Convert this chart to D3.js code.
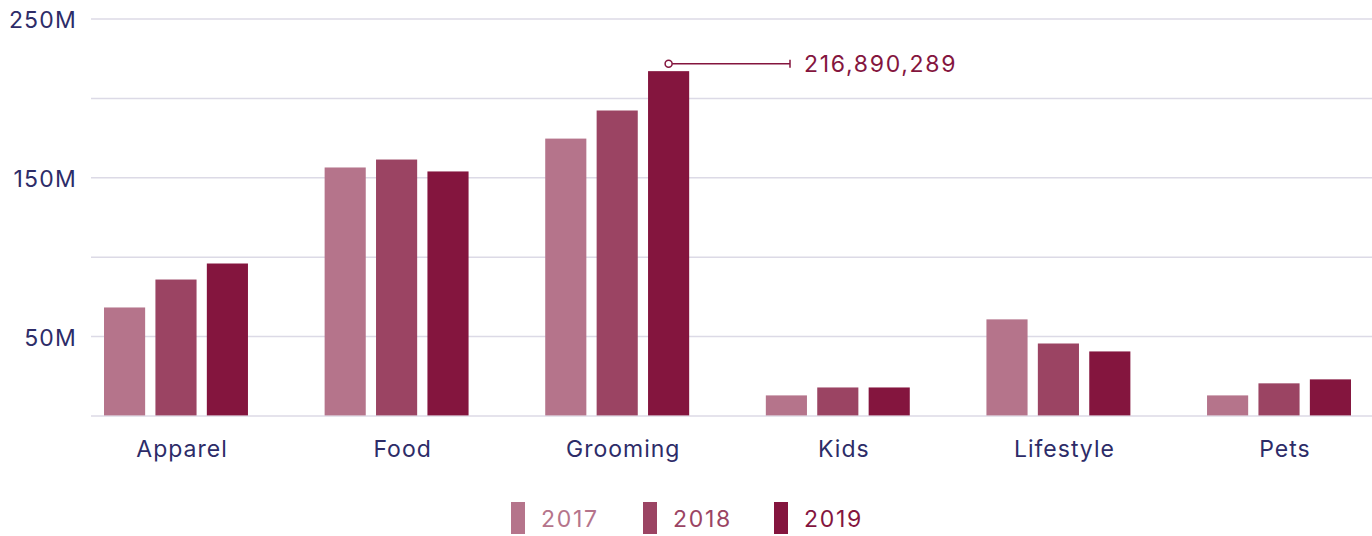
<!DOCTYPE html>
<html>
<head>
<meta charset="utf-8">
<script src="https://cdn.jsdelivr.net/npm/d3@7"></script>
<style>
  body { margin: 0; background: #fff; }
  text { font-family: Inter, "Noto Sans", sans-serif; }
  .grid line { stroke: #dcdae6; stroke-width: 1.5; }
  .grid path { display: none; }
  .tick text { fill: #2d2c68; font-size: 23px; }
  .grid .tick text { letter-spacing: 1.2px; }
  .xaxis .tick text { letter-spacing: 1px; }
  .num { letter-spacing: 1.7px; }
</style>
</head>
<body>
<div id="chart"></div>
<script>
var categories = ["Apparel", "Food", "Grooming", "Kids", "Lifestyle", "Pets"];
var years = ["2017", "2018", "2019"];
var sales2017 = [68.0e6, 156.2e6, 174.4e6, 12.6e6, 60.5e6, 12.6e6];
var sales2018 = [85.6e6, 161.2e6, 192.1e6, 17.6e6, 45.3e6, 20.2e6];
var sales2019 = [95.7e6, 153.7e6, 216890289, 17.6e6, 40.3e6, 22.7e6];
var yTicks = [0, 50e6, 100e6, 150e6, 200e6, 250e6];
var colors = ["#b5748b", "#9b4463", "#84153e"];

var series = [sales2017, sales2018, sales2019];

var margin = { top: 18.6, right: 0, bottom: 120, left: 91 },
  width = 1372 - margin.left - margin.right,
  height = 536 - margin.top - margin.bottom;

var svg = d3.select("#chart").append("svg")
  .attr("width", 1372)
  .attr("height", 536);

var g = svg.append("g")
  .attr("transform", "translate(" + margin.left + "," + margin.top + ")");

var x = d3.scaleBand()
  .domain(categories)
  .range([0, 1273])
  .paddingInner(0.3475)
  .paddingOuter(0.059);

var x1 = d3.scaleBand()
  .domain(years)
  .range([0, x.bandwidth()])
  .paddingInner(0.2);

var y = d3.scaleLinear()
  .domain([0, 250e6])
  .range([height - 0.6, 0]);

// gridlines + labels
var yAxis = d3.axisLeft(y)
  .tickValues(yTicks)
  .tickSize(-width)
  .tickPadding(14)
  .tickFormat(function(d) {
    return (d / 1e6) % 100 == 50 ? d3.format("d")(d / 1e6) + "M" : "";
  });

g.append("g")
  .attr("class", "grid")
  .call(yAxis)
  .selectAll(".tick text")
  .attr("dy", "0.4em");

// bars
var rows = categories.map(function(c, i) {
  return { cat: c, vals: years.map(function(yr, j) { return { year: yr, idx: j, v: series[j][i] }; }) };
});

var groups = g.selectAll(".group")
  .data(rows)
  .enter().append("g")
  .attr("class", "group")
  .attr("transform", function(d) { return "translate(" + x(d.cat) + ",0)"; });

groups.selectAll("rect")
  .data(function(d) { return d.vals; })
  .enter().append("rect")
  .attr("x", function(d) { return x1(d.year); })
  .attr("width", x1.bandwidth())
  .attr("y", function(d) { return y(d.v); })
  .attr("height", function(d) { return y(0) - y(d.v); })
  .attr("fill", function(d) { return colors[d.idx]; });

// category labels
var xAxis = d3.axisBottom(x).tickSize(0).tickPadding(25);
var xg = g.append("g")
  .attr("class", "xaxis")
  .attr("transform", "translate(6," + height + ")")
  .call(xAxis);
xg.select(".domain").remove();

// annotation on the biggest bar
var maxVal = d3.max(sales2019);
var maxCat = categories[sales2019.indexOf(maxVal)];
var ax = x(maxCat) + x1("2019") + x1.bandwidth() / 2;
var ay = y(maxVal) - 7.5;
var ann = g.append("g").attr("fill", "none").attr("stroke", "#84153e").attr("stroke-width", 1.5);
ann.append("line")
  .attr("x1", ax + 3.5).attr("x2", 699).attr("y1", ay).attr("y2", ay);
ann.append("line")
  .attr("x1", 699).attr("x2", 699).attr("y1", ay - 4).attr("y2", ay + 4);
ann.append("circle")
  .attr("cx", ax).attr("cy", ay).attr("r", 3.5).attr("fill", "#fff");
g.append("text")
  .attr("class", "num")
  .attr("x", 713)
  .attr("y", ay)
  .attr("dy", "0.36em")
  .attr("fill", "#84153e")
  .style("font-size", "23px")
  .text(d3.format(",")(maxVal));

// legend
var legendX = [511, 643, 774];
var legend = svg.selectAll(".legend")
  .data(years)
  .enter().append("g")
  .attr("class", "legend")
  .attr("transform", function(d, i) { return "translate(" + legendX[i] + ",502)"; });

legend.append("rect")
  .attr("width", 14)
  .attr("height", 32)
  .attr("fill", function(d, i) { return colors[i]; });

legend.append("text")
  .attr("class", "num")
  .attr("x", 30)
  .attr("y", 25)
  .attr("fill", function(d, i) { return colors[i]; })
  .style("font-size", "23px")
  .text(function(d) { return d; });
</script>
</body>
</html>
